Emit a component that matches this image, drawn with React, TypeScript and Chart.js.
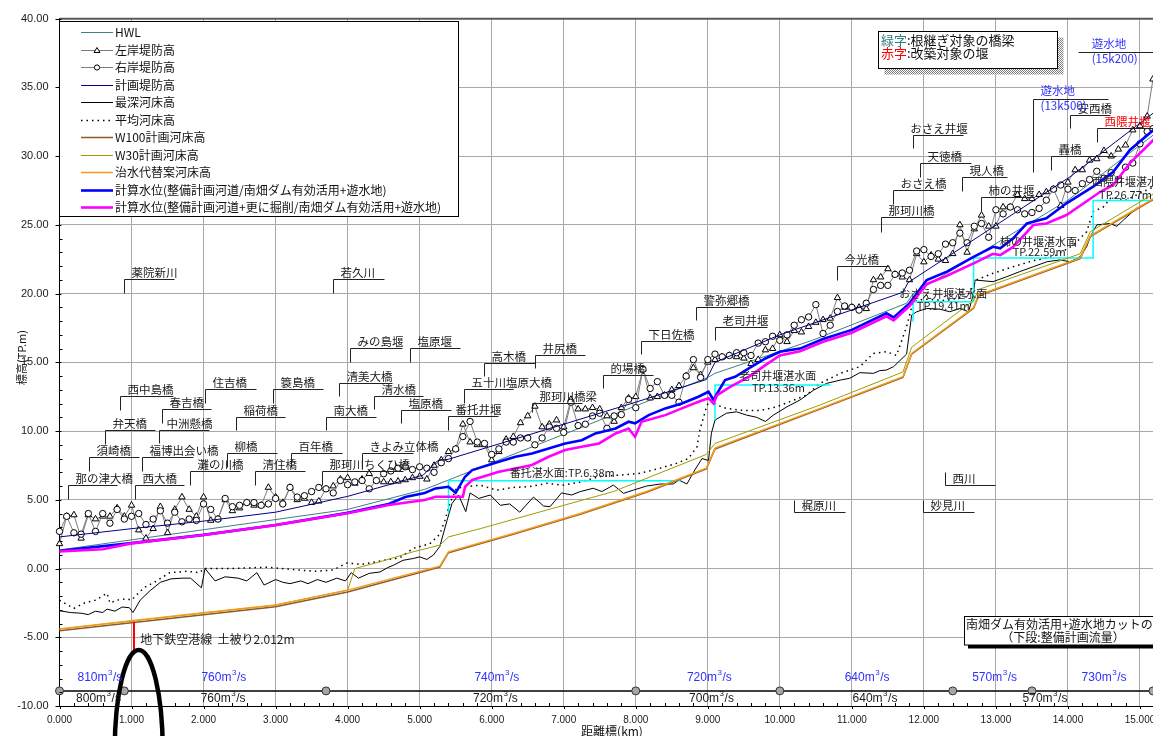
import React, { useEffect, useRef } from 'react';
import { Chart, registerables } from 'chart.js';

Chart.register(...registerables);

// ---------------- data ----------------
const bankKm = [0,0.1,0.2,0.3,0.4,0.5,0.6,0.7,0.8,0.9,1,1.1,1.2,1.3,1.4,1.5,1.6,1.7,1.8,1.9,2,2.1,2.2,2.3,2.4,2.5,2.6,2.7,2.8,2.9,3,3.1,3.2,3.3,3.4,3.5,3.6,3.7,3.8,3.9,4,4.1,4.2,4.3,4.4,4.5,4.6,4.7,4.8,4.9,5,5.1,5.2,5.3,5.4,5.5,5.6,5.7,5.8,5.9,6,6.1,6.2,6.3,6.4,6.5,6.6,6.7,6.8,6.9,7,7.1,7.2,7.3,7.4,7.5,7.6,7.7,7.8,7.9,8,8.1,8.2,8.3,8.4,8.5,8.6,8.7,8.8,8.9,9,9.1,9.2,9.3,9.4,9.5,9.6,9.7,9.8,9.9,10,10.1,10.2,10.3,10.4,10.5,10.6,10.7,10.8,10.9,11,11.1,11.2,11.3,11.4,11.5,11.6,11.7,11.8,11.9,12,12.1,12.2,12.3,12.4,12.5,12.6,12.7,12.8,12.9,13,13.1,13.2,13.3,13.4,13.5,13.6,13.7,13.8,13.9,14,14.1,14.2,14.3,14.4,14.5,14.6,14.7,14.8,14.9,15,15.1,15.18];
const leftBank = [
  1.8,3.8,3.9,2.2,3.9,3.6,3.8,3.8,4.4,3.8,
  4.6,2.8,2.2,2.9,4.5,2.6,4.3,5.2,4.3,3.8,
  5.2,3.5,3.6,5.0,4.2,4.4,4.8,4.6,4.6,5.9,
  5.2,4.8,5.9,5.0,5.1,4.8,4.9,5.8,6.0,6.5,
  6.6,6.2,6.5,6.9,6.4,6.3,6.3,6.35,6.45,6.6,
  6.7,6.5,7.5,7.9,8.5,8.7,10.5,9.2,9.0,9.0,
  7.9,8.5,9.4,9.6,10.6,11.1,11.8,10.3,10.5,10.8,
  10.3,12.3,11.6,11.6,11.7,11.6,11.1,10.7,11.7,12.4,
  12.5,14.5,12.4,12.5,12.6,13.0,13.3,14.0,14.6,14.1,
  15.0,15.2,15.4,15.5,15.4,15.3,14.9,15.2,15.9,16.0,
  17.0,16.5,17.3,17.2,17.6,17.9,18.1,18.2,19.7,19.0,
  19.0,19.0,18.9,21.0,21.2,21.8,21.4,21.2,21.0,22.9,
  22.3,22.8,22.5,22.4,22.9,25.0,23.0,24.7,25.7,24.9,
  24.9,26.3,26.3,27.2,26.9,26.9,27.2,27.4,27.6,26.4,
  28.1,29.0,29.0,29.7,29.8,30.4,30.0,30.5,30.8,31.9,
  32.2,32.9,35.6
];
const rightBank = [
  2.7,3.8,2.6,2.5,4.0,2.7,4.0,3.3,4.3,3.6,
  3.8,4.0,3.2,3.6,4.2,3.3,4.1,3.4,3.6,3.5,
  4.7,4.3,3.6,5.1,4.5,4.6,4.8,4.8,4.6,4.7,
  5.1,4.7,5.9,5.2,5.3,5.6,5.9,5.8,5.5,6.4,
  6.1,6.3,6.4,5.8,6.4,6.9,7.1,7.3,7.4,7.2,
  7.4,7.3,7.0,7.7,8.0,8.7,9.6,10.7,9.2,9.1,
  8.3,8.7,9.2,9.2,9.5,9.5,9.0,9.5,10.3,10.2,
  9.9,12.1,10.4,10.5,11.1,11.3,10.2,11.1,11.2,12.3,
  11.7,14.5,13.1,13.6,12.6,12.6,12.1,14.0,15.2,13.9,
  15.2,15.6,15.4,15.5,15.7,15.7,15.5,16.4,16.5,16.9,
  16.6,17.0,17.7,18.1,18.3,19.2,17.1,17.7,18.7,19.1,
  19.0,18.8,19.3,20.3,20.6,20.6,21.4,21.5,21.7,23.1,
  23.2,22.7,22.9,23.6,23.7,24.4,23.7,24.9,25.1,24.1,
  26.1,25.8,26.3,26.1,25.8,25.9,26.2,26.8,27.6,27.9,
  27.6,27.5,28.0,28.3,28.9,28.4,28.8,28.3,29.2,29.5,
  30.9,31.8,32.0
];

const planLeveeKm = [0,1,2,3,4,5.05,5.25,5.4,7,8,8.98,9.1,10,11.71,11.78,14.03,15.2];
const planLevee = [2.3,2.9,3.45,4.1,5.25,6.8,7.85,7.95,10.5,12.1,13.75,15.0,17.0,20.1,20.8,28.5,33.2];

const hwlKm = [0,4,5.07,5.4,7.5,9.0,9.1,10.46,11.76,11.85,14.0,15.2];
const hwl = [1.35,4.3,5.76,6.44,10.8,13.9,14.2,16.62,19.3,20.0,26.8,31.6];

const deepBedKm = [0,0.15,0.3,0.4,0.5,0.6,0.66,0.77,0.87,0.97,1.02,1.12,1.26,1.4,1.55,1.7,1.82,1.97,2.02,2.16,2.3,2.48,2.6,2.74,2.84,3.0,3.1,3.2,3.35,3.45,3.58,3.7,3.85,3.97,4.05,4.15,4.3,4.45,4.55,4.64,4.77,4.91,5.0,5.1,5.19,5.28,5.38,5.45,5.54,5.64,5.7,5.82,5.98,6.12,6.25,6.39,6.58,6.72,6.81,6.97,7.11,7.23,7.41,7.53,7.69,7.83,7.97,8.15,8.34,8.52,8.6,8.71,8.82,8.92,9.01,9.05,9.1,9.26,9.4,9.54,9.68,9.8,9.91,10.1,10.28,10.47,10.65,10.84,10.97,11.11,11.3,11.39,11.48,11.58,11.76,11.83,11.9,12.04,12.22,12.36,12.5,12.62,12.69,12.71,12.96,13.15,13.33,13.52,13.71,13.89,14.03,14.17,14.26,14.31,14.4,14.58,14.68,14.77,14.95,15.2];
const deepBed = [-3.07,-3.2,-3.25,-3.35,-3.1,-3.2,-2.95,-3.1,-2.8,-2.85,-3.2,-2.3,-1.6,-1.0,-0.75,-0.7,-0.7,-1.4,0.0,-0.9,-0.6,-0.7,-0.9,-0.3,-1.2,-0.8,-1.0,-1.1,-0.9,-1.1,-0.8,-1.0,-0.7,-0.9,-0.3,-0.7,-0.35,-0.25,0.05,0.25,0.6,0.73,0.85,0.66,0.98,1.6,3.5,4.74,5.35,4.14,5.5,5.1,5.35,4.6,4.7,4.1,5.2,4.55,4.5,5.5,5.35,5.6,5.84,5.6,6.07,5.47,5.71,6.0,6.15,6.15,6.44,6.15,7.17,8.0,7.86,9.84,10.8,11.3,11.4,11.16,11.0,10.7,11.16,11.77,12.26,12.98,13.47,13.71,13.84,14.25,14.2,14.4,14.44,14.69,15.6,18.44,18.68,18.92,18.87,18.68,18.92,18.68,20.0,20.99,20.87,21.23,21.6,21.96,22.32,22.45,22.32,22.69,23.41,24.14,25.0,25.1,24.9,25.35,26.2,26.9];

const meanBedKm = [0,0.1,0.2,0.35,0.5,0.66,0.7,0.8,0.93,1.0,1.17,1.35,1.53,1.77,1.95,2.0,2.4,2.88,3.3,3.57,3.8,3.99,4.2,4.5,4.73,4.91,5.14,5.28,5.35,5.42,5.51,5.65,5.84,6.07,6.3,6.53,6.76,6.99,7.23,7.5,7.78,8.06,8.34,8.57,8.73,8.85,8.89,8.99,9.06,9.12,9.26,9.49,9.73,9.96,10.14,10.37,10.56,10.84,11.11,11.3,11.48,11.62,11.76,11.85,12.0,12.3,12.6,12.69,12.73,12.96,13.24,13.52,13.8,14.07,14.26,14.35,14.49,14.6,14.8,15.0,15.2];
const meanBed = [-2.3,-2.6,-2.9,-2.5,-2.3,-1.8,-2.5,-2.3,-2.2,-2.3,-1.4,-0.9,-0.3,-0.2,-0.3,0.0,0.0,0.1,-0.1,-0.2,-0.1,0.4,0.3,0.6,0.8,1.47,1.8,2.5,3.5,4.74,5.84,5.96,6.07,5.7,5.9,5.96,6.2,6.07,6.3,6.7,6.8,6.93,7.3,7.66,8.0,8.85,10.07,11.9,12.26,11.9,11.65,11.5,11.5,11.77,12.14,12.62,13.47,14.2,14.69,15.65,15.78,15.5,17.6,19.4,19.6,19.5,19.8,20.6,21.0,21.48,21.96,22.4,22.69,23.5,24.5,25.96,26.3,27.0,26.8,27.3,27.8];

const w100Km = [0,3.0,4.0,5.28,5.4,6.3,7.23,8.15,8.98,9.1,10.56,11.71,11.83,12.69,12.76,14.17,14.31,15.2];
const w100 = [-4.52,-2.78,-1.7,0.1,1.15,2.5,3.95,5.55,7.25,8.7,11.6,13.9,15.6,18.93,19.85,22.55,24.15,26.9];

const w30Km = [0,3.0,4.0,4.1,4.45,4.91,5.28,5.4,5.84,6.76,7.69,8.98,9.1,10.56,11.71,11.83,12.69,12.76,14.17,14.31,15.2];
const w30 = [-4.4,-2.66,-1.57,0.0,0.49,1.22,1.7,2.3,2.9,4.25,5.6,8.3,9.1,11.9,14.3,16.1,19.5,20.3,22.9,24.5,27.3];

const altBedKm = [0,1.0,2.0,3.0,4.0,5.28,5.4,6.3,7.23,8.15,8.98,9.1,10.56,11.71,11.83,12.69,12.76,14.17,14.31,15.2];
const altBed = [-4.4,-3.8,-3.22,-2.66,-1.57,0.17,1.22,2.55,4.0,5.6,7.3,8.76,11.65,13.96,15.65,18.98,19.9,22.6,24.2,26.95];

const wl1Km = [0,1,2,3,4,4.57,4.8,5.07,5.22,5.4,5.5,5.63,5.73,6.1,6.33,6.56,6.79,7.02,7.25,7.44,7.72,7.9,7.99,8.18,8.41,8.64,8.87,9.01,9.08,9.13,9.24,9.38,9.57,9.8,10.0,10.28,10.6,11.0,11.48,11.58,11.8,12.04,12.32,12.69,12.96,13.06,13.24,13.43,13.7,13.98,14.35,14.63,14.86,15.2];
const wl1 = [1.3,1.85,2.45,3.17,4.05,4.7,5.2,5.5,5.83,5.95,5.51,6.68,7.16,7.77,8.13,8.37,8.74,9.1,9.34,9.83,10.19,10.68,10.56,11.16,11.65,12.01,12.5,12.86,12.26,12.74,13.71,13.95,14.56,15.28,15.77,16.0,16.7,17.36,18.57,18.27,19.29,20.99,21.6,22.68,23.41,23.3,24.02,25.11,25.48,26.57,27.78,28.87,30.45,31.95];

const wl2Km = [0,0.6,1,2,3,4,4.57,5.07,5.22,5.6,5.63,5.73,6.1,6.33,6.56,6.79,7.02,7.25,7.49,7.72,7.9,7.99,8.08,8.41,8.64,8.87,9.01,9.08,9.13,9.31,9.57,9.8,10.0,10.28,10.6,11.0,11.48,11.58,11.8,12.04,12.32,12.69,12.96,13.06,13.24,13.52,13.7,13.98,14.45,14.63,14.86,15.2];
const wl2 = [1.25,1.4,1.83,2.44,3.16,4.02,4.62,4.98,5.22,5.22,5.95,6.44,7.04,7.28,7.53,8.13,8.62,8.86,9.1,9.83,10.19,9.59,10.68,11.16,11.65,12.13,12.38,12.01,12.62,13.22,13.95,14.8,15.5,15.8,16.5,17.15,18.35,18.05,19.1,20.7,21.3,22.2,22.9,22.8,23.4,24.99,25.1,25.72,27.41,27.9,29.5,31.25];

// 湛水面 (impounded water surfaces)
const pondBantakuKm = [5.4, 5.4, 8.62];
const pondBantaku = [4.0, 6.38, 6.38];
const pondRoujiKm = [9.1, 9.1, 10.7];
const pondRouji = [10.8, 13.36, 13.36];
const pondUpperKm = [11.85, 11.85, 12.69, 12.69, 14.35, 14.35, 15.3];
const pondUpper = [17.96, 19.41, 19.41, 22.59, 22.59, 26.77, 26.77];

// flow reference line with station markers
const flowKm = [0, 0.9, 3.7, 8.0, 10.0, 12.4, 13.5, 15.18, 15.6];
const flowLevel = -8.9;
const flowUpper = [810, 760, 740, 720, 640, 570, 730];
const flowUpperKm = [0.25, 1.97, 5.76, 8.71, 10.9, 12.67, 14.19];
const flowLower = [800, 760, 720, 700, 640, 570];
const flowLowerKm = [0.23, 1.96, 5.74, 8.74, 11.01, 13.37];

// labels: t text, x vertical km, y line level, y0 tick end, x2 line end km
const bridgeLabels = [
  { t: '薬院新川', x: 0.90, y: 21.04, y0: 20.07, x2: 1.59 },
  { t: '若久川', x: 3.80, y: 21.04, y0: 20.07, x2: 4.50 },
  { t: 'みの島堰', x: 4.03, y: 16.06, y0: 15.05, x2: 4.75 },
  { t: '塩原堰', x: 4.86, y: 16.06, y0: 15.05, x2: 5.56 },
  { t: '清美大橋', x: 3.88, y: 13.52, y0: 12.57, x2: 4.61 },
  { t: '清水橋', x: 4.36, y: 12.57, y0: 11.6, x2: 5.05 },
  { t: '南大橋', x: 3.70, y: 11.04, y0: 10.08, x2: 4.39 },
  { t: '塩原橋', x: 4.74, y: 11.53, y0: 10.56, x2: 5.44 },
  { t: 'きよみ立体橋', x: 4.20, y: 8.42, y0: 7.29, x2: 4.91 },
  { t: '那珂川ちくひ橋', x: 3.65, y: 7.12, y0: 6.08, x2: 4.77 },
  { t: '百年橋', x: 3.22, y: 8.42, y0: 7.41, x2: 3.92 },
  { t: '清住橋', x: 2.71, y: 7.12, y0: 6.08, x2: 3.41 },
  { t: '柳橋', x: 2.32, y: 8.42, y0: 7.41, x2: 3.02 },
  { t: '稲荷橋', x: 2.45, y: 11.04, y0: 10.08, x2: 3.13 },
  { t: '簑島橋', x: 2.97, y: 13.04, y0: 12.02, x2: 3.66 },
  { t: '住吉橋', x: 2.02, y: 13.04, y0: 12.02, x2: 2.73 },
  { t: '春吉橋', x: 1.42, y: 11.58, y0: 10.56, x2: 2.11 },
  { t: '中洲懸橋', x: 1.38, y: 10.08, y0: 9.11, x2: 2.08 },
  { t: '西中島橋', x: 0.84, y: 12.57, y0: 11.53, x2: 1.58 },
  { t: '弁天橋', x: 0.63, y: 10.08, y0: 9.06, x2: 1.33 },
  { t: '須崎橋', x: 0.41, y: 8.09, y0: 7.12, x2: 1.10 },
  { t: '福博出会い橋', x: 1.14, y: 8.09, y0: 7.12, x2: 1.85 },
  { t: '那の津大橋', x: 0.12, y: 6.08, y0: 5.08, x2: 0.80 },
  { t: '西大橋', x: 1.05, y: 6.08, y0: 5.08, x2: 1.73 },
  { t: '灘の川橋', x: 1.81, y: 7.12, y0: 6.08, x2: 2.51 },
  { t: '高木橋', x: 5.90, y: 14.97, y0: 14.0, x2: 6.60 },
  { t: '井尻橋', x: 6.60, y: 15.53, y0: 14.57, x2: 7.30 },
  { t: '五十川塩原大橋', x: 5.61, y: 13.04, y0: 12.02, x2: 6.30 },
  { t: '番托井堰', x: 5.40, y: 11.09, y0: 10.08, x2: 6.09 },
  { t: '那珂川橋梁', x: 6.56, y: 12.06, y0: 11.41, x2: 7.25 },
  { t: '的場橋', x: 7.54, y: 14.08, y0: 13.11, x2: 8.24 },
  { t: '下日佐橋', x: 8.07, y: 16.57, y0: 15.61, x2: 8.77 },
  { t: '警弥郷橋', x: 8.83, y: 19.0, y0: 18.08, x2: 9.54 },
  { t: '老司井堰', x: 9.10, y: 17.55, y0: 16.62, x2: 9.82 },
  { t: '今光橋', x: 10.80, y: 22.03, y0: 20.99, x2: 11.52 },
  { t: '那珂川橋', x: 11.40, y: 25.55, y0: 24.5, x2: 12.13 },
  { t: 'おさえ橋', x: 11.57, y: 27.54, y0: 26.52, x2: 12.27 },
  { t: '天徳橋', x: 11.95, y: 29.48, y0: 28.5, x2: 12.65 },
  { t: 'おさえ井堰', x: 11.85, y: 31.54, y0: 30.57, x2: 12.55, tx: 11.81 },
  { t: '現人橋', x: 12.53, y: 28.5, y0: 27.49, x2: 13.15 },
  { t: '柿の井堰', x: 12.79, y: 27.05, y0: 26.03, x2: 13.53 },
  { t: '轟橋', x: 13.76, y: 30.01, y0: 28.99, x2: 14.67 },
  { t: '安西橋', x: 14.03, y: 32.99, y0: 32.03, x2: 14.58 },
  { t: '西隈井堰', x: 14.40, y: 32.07, y0: 31.05, x2: 15.3, c: '#ff0000' },
  { t: '遊水地', t2: '(13k500)', x: 13.52, y: 34.16, y0: 28.87, x2: 14.56, c: '#2f2fff' },
  { t: '遊水地', t2: '(15k200)', x: 15.18, y: 37.56, y0: 33.6, x2: 14.14, tx: 14.33, c: '#2f2fff' },
  { t: '西川', x: 12.30, y: 6.08, y0: 7.04, x2: 12.99 },
  { t: '梶原川', x: 10.20, y: 4.09, y0: 4.98, x2: 10.90 },
  { t: '妙見川', x: 11.99, y: 4.09, y0: 4.98, x2: 12.70 },
];

const pondLabels = [
  { t: '番托湛水面:TP.6.38m', x: 6.98, y: 6.97 },
  { t: '老司井堰湛水面', x: 9.97, y: 14.0 },
  { t: 'TP.13.36m', x: 9.98, y: 13.15 },
  { t: 'おさえ井堰湛水面', x: 12.27, y: 20.02 },
  { t: 'TP.19.41m', x: 12.27, y: 19.1 },
  { t: '柿の井堰湛水面', x: 13.59, y: 23.78 },
  { t: 'TP.22.59m', x: 13.6, y: 23.05 },
  { t: '西隈井堰湛水面', x: 14.87, y: 28.14 },
  { t: 'TP.26.77m', x: 14.8, y: 27.17 },
];

// subway crossing
const subwayKm = 1.10;
const subwayTop = -5.93;
const subwayLinkKm = 1.034;
const subwayCoverTop = -3.86;

const CJK = "'Noto Sans CJK JP', 'Noto Sans', sans-serif";
const LAT = "'Liberation Sans', Arial, sans-serif";

function pts(xs: number[], ys: number[]) {
  return xs.map((x, i) => ({ x, y: ys[i] }));
}

function line(ctx: any, x1: number, y1: number, x2: number, y2: number) {
  ctx.beginPath();
  ctx.moveTo(x1, y1);
  ctx.lineTo(x2, y2);
  ctx.stroke();
}

const overlay = {
  id: 'overlay',
  afterDraw(chart: any) {
    const ctx = chart.ctx;
    const ca = chart.chartArea;
    const xs = chart.scales.x;
    const ys = chart.scales.y;
    const px = (v: number) => xs.getPixelForValue(v);
    const py = (v: number) => ys.getPixelForValue(v);
    const r = (v: number) => Math.round(v) + 0.5;
    ctx.save();

    // top border
    ctx.strokeStyle = '#5a5a5a';
    ctx.lineWidth = 2;
    line(ctx, ca.left, ca.top, ca.right, ca.top);

    // ticks
    ctx.strokeStyle = '#000';
    ctx.lineWidth = 1;
    for (let v = -10; v <= 40; v++) {
      const y = r(py(v));
      if (v % 5 === 0) line(ctx, ca.left - 4, y, ca.left + 2, y);
      else line(ctx, ca.left, y, ca.left + 3, y);
    }
    for (let i = 0; i <= 80; i++) {
      const x = r(px(i * 0.2));
      if (i % 5 === 0) line(ctx, x, ca.bottom, x, ca.bottom + 3);
      else line(ctx, x, ca.bottom - 3, x, ca.bottom);
    }

    // bridge / weir labels
    ctx.font = `11.5px ${CJK}`;
    ctx.textBaseline = 'middle';
    ctx.textAlign = 'left';
    for (const b of bridgeLabels) {
      const x = r(px(b.x));
      const yl = r(py(b.y));
      ctx.strokeStyle = '#222';
      ctx.lineWidth = 1;
      ctx.beginPath();
      ctx.moveTo(x, r(py(b.y0)));
      ctx.lineTo(x, yl);
      ctx.lineTo(r(px(b.x2)), yl);
      ctx.stroke();
      ctx.fillStyle = b.c || '#1a1a1a';
      const tx = b.tx !== undefined ? px(b.tx) : x + 7;
      if (b.t2) {
        ctx.fillText(b.t, tx, yl - 8.5);
        ctx.fillText(b.t2, tx, yl + 6);
      } else {
        ctx.fillText(b.t, tx, yl - 7);
      }
    }

    // pond labels
    ctx.font = `11px ${CJK}`;
    ctx.textAlign = 'center';
    ctx.fillStyle = '#222';
    for (const p of pondLabels) ctx.fillText(p.t, px(p.x), py(p.y));

    // subway
    const sx = px(subwayKm);
    const sTop = py(subwayTop);
    ctx.strokeStyle = '#ff0000';
    ctx.lineWidth = 2;
    line(ctx, px(subwayLinkKm), py(subwayCoverTop), px(subwayLinkKm), sTop + 1);
    ctx.strokeStyle = '#000';
    ctx.lineWidth = 4.5;
    ctx.beginPath();
    ctx.ellipse(sx, sTop + 100, 24, 100, 0, Math.PI, 2 * Math.PI);
    ctx.stroke();
    ctx.font = `12px ${CJK}`;
    ctx.textAlign = 'left';
    ctx.fillStyle = '#1a1a1a';
    ctx.fillText('地下鉄空港線  土被り2.012m', px(1.12), py(-5.15));

    // flow texts
    const flowText = (val: number, km: number, lvl: number, color: string) => {
      const x = px(km);
      const y = py(lvl);
      ctx.fillStyle = color;
      ctx.textAlign = 'left';
      ctx.font = `12px ${LAT}`;
      const a = `${val}m`;
      ctx.fillText(a, x, y);
      const w = ctx.measureText(a).width;
      ctx.font = `8px ${LAT}`;
      ctx.fillText('3', x + w + 0.5, y - 5);
      ctx.font = `12px ${LAT}`;
      ctx.fillText('/s', x + w + 5.5, y);
    };
    flowUpper.forEach((v, i) => flowText(v, flowUpperKm[i], -7.95, '#2f2fff'));
    flowLower.forEach((v, i) => flowText(v, flowLowerKm[i], -9.45, '#1a1a1a'));

    // legend
    const lx = 59.5, ly = 21.5, lw = 399, lh = 195;
    ctx.fillStyle = '#fff';
    ctx.fillRect(lx, ly, lw, lh);
    ctx.strokeStyle = '#000';
    ctx.lineWidth = 1;
    ctx.strokeRect(lx, ly, lw, lh);
    const legendSets = chart.data.datasets.filter((d: any) => d.inLegend);
    legendSets.sort((a: any, b: any) => a.legendIndex - b.legendIndex);
    ctx.font = `12px ${CJK}`;
    ctx.textAlign = 'left';
    ctx.textBaseline = 'middle';
    legendSets.forEach((d: any, i: number) => {
      const y = Math.round(32 + i * 17.53) + 0.5;
      ctx.save();
      ctx.strokeStyle = d.borderColor;
      ctx.lineWidth = d.borderWidth;
      ctx.setLineDash(d.borderDash || []);
      line(ctx, 81, y, 113, y);
      ctx.restore();
      if (d.pointStyle === 'triangle') {
        ctx.beginPath();
        ctx.moveTo(97, y - 3);
        ctx.lineTo(100, y + 2);
        ctx.lineTo(94, y + 2);
        ctx.closePath();
        ctx.fillStyle = '#fff';
        ctx.fill();
        ctx.strokeStyle = '#000';
        ctx.lineWidth = 1;
        ctx.stroke();
      } else if (d.pointStyle === 'circle' && d.pointRadius > 0) {
        ctx.beginPath();
        ctx.arc(97, y, 2.6, 0, Math.PI * 2);
        ctx.fillStyle = '#fff';
        ctx.fill();
        ctx.strokeStyle = '#000';
        ctx.lineWidth = 1;
        ctx.stroke();
      }
      ctx.fillStyle = '#111';
      ctx.fillText(d.label, 115, y);
    });

    // note box (top right)
    const nx = 878.5, ny = 31.5, nw = 179, nh = 37;
    const pc = document.createElement('canvas');
    pc.width = 2; pc.height = 2;
    const pctx = pc.getContext('2d')!;
    pctx.fillStyle = '#fff';
    pctx.fillRect(0, 0, 2, 2);
    pctx.fillStyle = '#7a7a7a';
    pctx.fillRect(0, 0, 1, 1);
    pctx.fillRect(1, 1, 1, 1);
    const pat = ctx.createPattern(pc, 'repeat');
    ctx.fillStyle = pat;
    ctx.fillRect(nx + 6, ny + 6, nw, nh);
    ctx.fillStyle = '#fff';
    ctx.fillRect(nx, ny, nw, nh);
    ctx.strokeStyle = '#000';
    ctx.strokeRect(nx, ny, nw, nh);
    ctx.font = `13px ${CJK}`;
    ctx.textAlign = 'left';
    const noteLine = (a: string, ca2: string, b: string, y: number) => {
      ctx.fillStyle = ca2;
      ctx.fillText(a, 881, y);
      const w = ctx.measureText(a).width;
      ctx.fillStyle = '#111';
      ctx.fillText(b, 881 + w, y);
    };
    noteLine('緑字', '#2f8080', ':根継ぎ対象の橋梁', 40);
    noteLine('赤字', '#ff0000', ':改築対象の堰', 53);

    // flow note box (bottom right)
    ctx.fillStyle = '#000';
    ctx.fillRect(968, 645, 260, 3.5);
    ctx.fillStyle = '#fff';
    ctx.fillRect(964.5, 616.5, 260, 28.5);
    ctx.strokeStyle = '#000';
    ctx.lineWidth = 1;
    ctx.strokeRect(964.5, 616.5, 260, 28.5);
    ctx.fillStyle = '#111';
    ctx.font = `12px ${CJK}`;
    ctx.textAlign = 'left';
    ctx.fillText('南畑ダム有効活用+遊水地カットの流量', 966, 624.5);
    ctx.textAlign = 'center';
    ctx.fillText('（下段:整備計画流量）', 1063, 637);

    // axis titles
    ctx.fillStyle = '#111';
    ctx.font = `11px ${CJK}`;
    ctx.save();
    ctx.translate(21.5, 357.5);
    ctx.rotate(-Math.PI / 2);
    ctx.textAlign = 'center';
    ctx.fillText('標高(TP.m)', 0, 0);
    ctx.restore();
    ctx.font = `12px ${CJK}`;
    ctx.textAlign = 'center';
    ctx.fillText('距離標(km)', 612, 731);

    ctx.restore();
  },
};

export default function App() {
  const ref = useRef<HTMLCanvasElement>(null);

  useEffect(() => {
    const canvas = ref.current;
    if (!canvas) return;
    const base = { pointRadius: 0, tension: 0, clip: false, fill: false };
    const chart = new Chart(canvas, {
      type: 'line',
      data: {
        datasets: [
          { ...base, label: 'HWL', data: pts(hwlKm, hwl), borderColor: '#3f7f7f', borderWidth: 1, order: 11, inLegend: true, legendIndex: 0 },
          { ...base, label: '左岸堤防高', data: pts(bankKm, leftBank), borderColor: '#7d7d7d', borderWidth: 1, pointRadius: 3.7, pointStyle: 'triangle', pointBackgroundColor: '#fff', pointBorderColor: '#000', pointBorderWidth: 1, order: 10, inLegend: true, legendIndex: 1 },
          { ...base, label: '右岸堤防高', data: pts(bankKm, rightBank), borderColor: '#7d7d7d', borderWidth: 1, pointRadius: 3.2, pointStyle: 'circle', pointBackgroundColor: '#fff', pointBorderColor: '#000', pointBorderWidth: 1, order: 9, inLegend: true, legendIndex: 2 },
          { ...base, label: '計画堤防高', data: pts(planLeveeKm, planLevee), borderColor: '#000080', borderWidth: 1, order: 8, inLegend: true, legendIndex: 3 },
          { ...base, label: '最深河床高', data: pts(deepBedKm, deepBed), borderColor: '#000', borderWidth: 1, order: 7, inLegend: true, legendIndex: 4 },
          { ...base, label: '平均河床高', data: pts(meanBedKm, meanBed), borderColor: '#000', borderWidth: 1.5, borderDash: [1.5, 4], order: 6, inLegend: true, legendIndex: 5 },
          { ...base, label: 'W100計画河床高', data: pts(w100Km, w100), borderColor: '#8b5a2b', borderWidth: 1.5, order: 4, inLegend: true, legendIndex: 6 },
          { ...base, label: 'W30計画河床高', data: pts(w30Km, w30), borderColor: '#9c9c00', borderWidth: 1, order: 3, inLegend: true, legendIndex: 7 },
          { ...base, label: '治水代替案河床高', data: pts(altBedKm, altBed), borderColor: '#f59b1a', borderWidth: 1.5, order: 2, inLegend: true, legendIndex: 8 },
          { ...base, label: '計算水位(整備計画河道/南畑ダム有効活用+遊水地)', data: pts(wl1Km, wl1), borderColor: '#0000ff', borderWidth: 2.6, order: 1, inLegend: true, legendIndex: 9 },
          { ...base, label: '計算水位(整備計画河道+更に掘削/南畑ダム有効活用+遊水地)', data: pts(wl2Km, wl2), borderColor: '#ff00ff', borderWidth: 2.6, order: 0, inLegend: true, legendIndex: 10 },
          { ...base, label: '番托湛水面', data: pts(pondBantakuKm, pondBantaku), borderColor: '#00ffff', borderWidth: 1.5, order: 5 },
          { ...base, label: '老司井堰湛水面', data: pts(pondRoujiKm, pondRouji), borderColor: '#00ffff', borderWidth: 1.5, order: 5 },
          { ...base, label: '上流湛水面', data: pts(pondUpperKm, pondUpper), borderColor: '#00ffff', borderWidth: 1.5, order: 5 },
          { ...base, label: '流量', data: flowKm.map((x) => ({ x, y: flowLevel })), borderColor: '#000', borderWidth: 1.5, pointRadius: flowKm.map((x, i) => (i === flowKm.length - 1 ? 0 : 4)), pointStyle: 'circle', pointBackgroundColor: '#a6a6a6', pointBorderColor: '#333', pointBorderWidth: 1, order: 0 },
        ] as any,
      },
      options: {
        animation: false,
        responsive: false,
        maintainAspectRatio: false,
        devicePixelRatio: 1,
        events: [],
        layout: { padding: { top: 18.7, right: 28, bottom: 24, left: 0 } },
        plugins: { legend: { display: false }, tooltip: { enabled: false }, title: { display: false } },
        scales: {
          x: {
            type: 'linear',
            min: 0,
            max: 16,
            afterFit: (s: any) => { s.height = 30; },
            grid: { color: '#a8a8a8', lineWidth: 1, drawTicks: false },
            border: { color: '#000', width: 1 },
            ticks: {
              stepSize: 1,
              includeBounds: false,
              autoSkip: false,
              maxRotation: 0,
              padding: 8,
              color: '#1a1a1a',
              font: { family: LAT, size: 10 },
              callback: (v: any) => Number(v).toFixed(3),
            },
          },
          y: {
            type: 'linear',
            min: -10,
            max: 40,
            afterFit: (s: any) => { s.width = 59.5; },
            grid: { color: '#a8a8a8', lineWidth: 1, drawTicks: false },
            border: { color: '#000', width: 1 },
            ticks: {
              stepSize: 5,
              padding: 11,
              color: '#1a1a1a',
              font: { family: LAT, size: 11 },
              callback: (v: any) => Number(v).toFixed(2),
            },
          },
        },
      } as any,
      plugins: [overlay],
    });
    return () => chart.destroy();
  }, []);

  return (
    <div style={{ position: 'fixed', left: 0, top: 0, width: 1240, height: 760, background: '#fff' }}>
      <canvas ref={ref} width={1240} height={760} style={{ display: 'block', width: 1240, height: 760 }} />
    </div>
  );
}
